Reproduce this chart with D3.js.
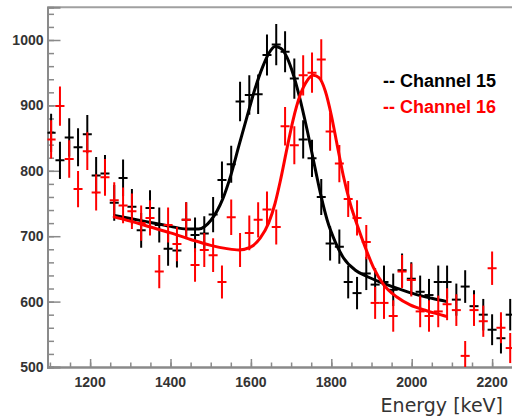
<!DOCTYPE html>
<html>
<head>
<meta charset="utf-8">
<script src="https://cdn.jsdelivr.net/npm/d3@7"></script>
<style>
  html, body { margin: 0; padding: 0; background: #fff; }
  svg { display: block; }
</style>
</head>
<body>
<svg id="chart" width="512" height="418"></svg>
<script>
// Bin centres (keV) of the energy histogram
const energy = [1103, 1125, 1148, 1170, 1193, 1215, 1237, 1260, 1282, 1304,
  1327, 1349, 1372, 1394, 1416, 1439, 1461, 1484, 1506, 1528,
  1551, 1573, 1596, 1618, 1640, 1663, 1685, 1708, 1730, 1752,
  1775, 1797, 1820, 1842, 1864, 1887, 1909, 1931, 1954, 1976,
  1999, 2021, 2043, 2066, 2088, 2111, 2133, 2155, 2178, 2200,
  2222, 2245];
const binHalfWidth = 11.2;

// Counts per bin
const channel15 = [858, 816, 851, 836, 856, 793, 796, 751, 789, 745,
  709, 743, 717, 681, 678, 725, 702, 704, 733, 786,
  810, 906, 916, 917, 977, 993, 982, 941, 848, 819,
  760, 689, 684, 630, 613, 643, 626, 630, 618, 648,
  635, 615, 610, 630, 630, 603, 623, 593, 580, 557,
  544, 580];
const channel16 = [848, 899, 818, 772, 830, 767, 790, 755, 747, 738,
  720, 728, 646, 717, 688, 725, 656, 679, 671, 630,
  729, 679, 705, 725, 741, 714, 868, 839, 946, 950,
  970, 860, 811, 757, 728, 691, 598, 598, 578, 646,
  633, 585, 578, 585, 596, 587, 517, 587, 570, 651,
  560, 529];

// Fitted peak + background curves, sampled along the fit range
const fit15Energy = [1257, 1300, 1350, 1400, 1440, 1470, 1500, 1530, 1550, 1570,
  1590, 1610, 1630, 1645, 1660, 1675, 1690, 1705, 1720, 1740,
  1760, 1775, 1790, 1810, 1830, 1860, 1890, 1930, 1970, 2010, 2050, 2088];
const fit15 = [732, 727, 721, 715, 711, 711, 724, 757, 793, 838,
  882, 925, 960, 980, 990, 987, 973, 948, 915, 862,
  803, 760, 724, 691, 667, 648, 638, 628, 619, 611, 605, 600];
const fit16Energy = [1257, 1300, 1350, 1400, 1450, 1500, 1540, 1570, 1598, 1623,
  1644, 1660, 1673, 1690, 1705, 1722, 1740, 1755, 1770, 1785,
  1800, 1815, 1830, 1847, 1865, 1885, 1905, 1930, 1963, 1996, 2037, 2071, 2088];
const fit16 = [730, 723, 714, 705, 695, 686, 681, 679, 683, 697,
  720, 750, 784, 835, 878, 915, 938, 946, 942, 922,
  885, 838, 792, 750, 716, 682, 652, 626, 607, 595, 586, 580, 577];

const xMajorTicks = [1200, 1400, 1600, 1800, 2000, 2200];
const xMinorTicks = d3.range(1100, 2301, 50);
const yMajorTicks = [500, 600, 700, 800, 900, 1000];
const yMinorTicks = d3.range(500, 1041, 20);

const seriesNames = ["-- Channel 15", "-- Channel 16"];
const seriesColors = ["#000000", "#ff0000"];

const svg = d3.select("#chart");

const plotLeft = 47.5, plotBottom = 367, plotTop = 7.3;
const x = d3.scaleLinear().domain([1094, 2300]).range([plotLeft, plotLeft + (2300 - 1094) * 0.402]);
const y = d3.scaleLinear().domain([500, 1050]).range([plotBottom, plotTop]);

const axisColor = "#8a8a8a";
const labelColor = "#333";

// frame: top border
svg.append("line")
  .attr("x1", plotLeft).attr("x2", 512).attr("y1", plotTop).attr("y2", plotTop)
  .attr("stroke", "#a0a0a0").attr("stroke-width", 2);

// clip for plotted marks
svg.append("clipPath").attr("id", "plotArea")
  .append("rect").attr("x", plotLeft).attr("y", plotTop)
  .attr("width", 512 - plotLeft).attr("height", plotBottom - plotTop);

// x axis (ticks pointing inward)
const xAxisMajor = d3.axisTop(x).tickValues(xMajorTicks).tickSize(8).tickFormat("");
const xAxisMinor = d3.axisTop(x).tickValues(xMinorTicks).tickSize(4.5).tickFormat("");
const gx = svg.append("g").attr("transform", `translate(0,${plotBottom})`);
gx.append("g").call(xAxisMinor);
gx.append("g").call(xAxisMajor);
gx.selectAll("path.domain").attr("stroke", axisColor).attr("stroke-width", 2);
gx.selectAll(".tick line").attr("stroke", axisColor).attr("stroke-width", 1.5);

svg.append("g").selectAll("text").data(xMajorTicks).join("text")
  .attr("x", d => x(d)).attr("y", 387)
  .attr("text-anchor", "middle")
  .attr("font-family", "Liberation Sans, Arial, sans-serif")
  .attr("font-weight", "bold").attr("font-size", 14)
  .attr("fill", labelColor)
  .text(d => d);

// y axis (ticks pointing inward)
const yAxisMajor = d3.axisRight(y).tickValues(yMajorTicks).tickSize(13).tickFormat("");
const yAxisMinor = d3.axisRight(y).tickValues(yMinorTicks).tickSize(6.5).tickFormat("");
const gy = svg.append("g").attr("transform", `translate(${plotLeft},0)`);
gy.append("g").call(yAxisMinor);
gy.append("g").call(yAxisMajor);
gy.selectAll("path.domain").attr("stroke", axisColor).attr("stroke-width", 2);
gy.selectAll(".tick line").attr("stroke", axisColor).attr("stroke-width", 1.5);

svg.append("g").selectAll("text").data(yMajorTicks).join("text")
  .attr("x", 43.5).attr("y", d => y(d) + 5)
  .attr("text-anchor", "end")
  .attr("font-family", "Liberation Sans, Arial, sans-serif")
  .attr("font-weight", "bold").attr("font-size", 14)
  .attr("fill", labelColor)
  .text(d => d);

// axis title
svg.append("text")
  .attr("x", 503).attr("y", 412)
  .attr("text-anchor", "end")
  .attr("font-family", "DejaVu Sans, sans-serif")
  .attr("font-size", 19)
  .attr("fill", labelColor)
  .text("Energy [keV]");

const plot = svg.append("g").attr("clip-path", "url(#plotArea)");

function drawPoints(values, color) {
  const g = plot.append("g").attr("stroke", color).attr("stroke-width", 2);
  const pts = energy.map((e, i) => ({ e, v: values[i], err: Math.sqrt(values[i]) }));
  g.selectAll("line.v").data(pts).join("line").attr("class", "v")
    .attr("x1", d => x(d.e)).attr("x2", d => x(d.e))
    .attr("y1", d => y(d.v - d.err)).attr("y2", d => y(d.v + d.err));
  g.selectAll("line.h").data(pts).join("line").attr("class", "h")
    .attr("x1", d => x(d.e - binHalfWidth)).attr("x2", d => x(d.e + binHalfWidth))
    .attr("y1", d => y(d.v)).attr("y2", d => y(d.v));
}

function drawFit(es, vs, color) {
  const line = d3.line().x(d => x(d[0])).y(d => y(d[1])).curve(d3.curveMonotoneX);
  plot.append("path")
    .datum(es.map((e, i) => [e, vs[i]]))
    .attr("d", line)
    .attr("fill", "none")
    .attr("stroke", color)
    .attr("stroke-width", 3)
    .attr("stroke-linejoin", "round");
}

drawPoints(channel15, seriesColors[0]);
drawFit(fit15Energy, fit15, seriesColors[0]);
drawPoints(channel16, seriesColors[1]);
drawFit(fit16Energy, fit16, seriesColors[1]);

// legend
svg.append("g").selectAll("text").data(seriesNames).join("text")
  .attr("x", 383).attr("y", (d, i) => 87 + i * 26)
  .attr("font-family", "Liberation Sans, Arial, sans-serif")
  .attr("font-weight", "bold").attr("font-size", 18)
  .attr("fill", (d, i) => seriesColors[i])
  .text(d => d);
</script>
</body>
</html>
